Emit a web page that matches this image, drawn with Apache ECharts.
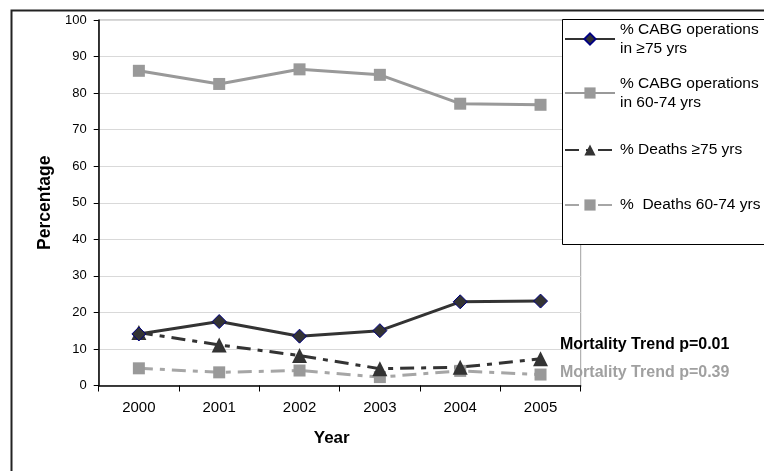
<!DOCTYPE html>
<html>
<head>
<meta charset="utf-8">
<script src="https://cdn.jsdelivr.net/npm/echarts@6/dist/echarts.min.js"></script>
<style>
html,body{margin:0;padding:0;background:#fff;}
#chart{width:764px;height:471px;}
</style>
</head>
<body>
<div id="chart"></div>
<script>
var years = ['2000', '2001', '2002', '2003', '2004', '2005'];
var cabg75 = [14.1, 17.5, 13.5, 15.0, 22.9, 23.1];
var cabg6074 = [86.1, 82.5, 86.5, 85.0, 77.1, 76.8];
var deaths75 = [14.5, 11.1, 8.2, 4.6, 5.0, 7.3];
var deaths6074 = [4.7, 3.6, 4.1, 2.3, 4.0, 3.0];
var yTicks = [0, 10, 20, 30, 40, 50, 60, 70, 80, 90, 100];
var seriesNames = ['% CABG operations\nin \u226575 yrs', '% CABG operations\nin 60-74 yrs', '% Deaths \u226575 yrs', '%  Deaths 60-74 yrs'];
var trendLabels = ['Mortality Trend p=0.01', 'Mortality Trend p=0.39'];

var FONT = 'Liberation Sans, Arial, sans-serif';
var dark = '#333333';
var gray = '#999999';
var lightGray = '#a6a6a6';

function legendFor(name, top, multi) {
  return {
    data: [name],
    left: 564,
    top: top,
    padding: 0,
    z: 6,
    itemWidth: 50,
    itemHeight: 14,
    itemGap: 4,
    selectedMode: false,
    textStyle: {
      fontFamily: FONT,
      fontSize: 15.5,
      color: '#000',
      lineHeight: 19,
      padding: multi ? [19, 0, 0, 0] : 0
    }
  };
}

var chart = echarts.init(document.getElementById('chart'));
chart.setOption({
  animation: false,
  backgroundColor: '#fff',
  grid: {
    left: 98.7, right: 183.3, top: 20, bottom: 85.5,
    show: true, borderColor: '#a0a0a0', borderWidth: 1
  },
  legend: [
    legendFor(seriesNames[0], 10.5, true),
    legendFor(seriesNames[1], 64.5, true),
    legendFor(seriesNames[2], 140.5, false),
    legendFor(seriesNames[3], 195.5, false)
  ],
  xAxis: {
    type: 'category',
    data: years,
    boundaryGap: true,
    name: 'Year',
    nameLocation: 'middle',
    nameGap: 44,
    nameTextStyle: { fontFamily: FONT, fontSize: 17, fontWeight: 'bold', color: '#000', padding: [0, 16, 0, 0] },
    axisLine: { lineStyle: { color: '#000', width: 1.5 } },
    axisTick: { show: true, length: 6, alignWithLabel: false, lineStyle: { color: '#000', width: 1 } },
    axisLabel: { fontFamily: FONT, fontSize: 15, color: '#000', margin: 15 },
    splitLine: { show: false }
  },
  yAxis: {
    type: 'value',
    min: 0, max: 100, interval: 10,
    name: 'Percentage',
    nameLocation: 'middle',
    nameGap: 44,
    nameRotate: 90,
    nameTextStyle: { fontFamily: FONT, fontSize: 17.5, fontWeight: 'bold', color: '#000' },
    axisLine: { show: true, lineStyle: { color: '#000', width: 1.5 } },
    axisTick: { show: true, length: 5, lineStyle: { color: '#000', width: 1 } },
    axisLabel: {
      fontFamily: FONT, fontSize: 13, color: '#000', margin: 12,
      formatter: function (v) { return yTicks.indexOf(v) >= 0 ? String(v) : ''; }
    },
    splitLine: { show: true, lineStyle: { color: '#d9d9d9', width: 1 } }
  },
  series: [
    {
      name: seriesNames[1], type: 'line', data: cabg6074,
      symbol: 'rect', symbolSize: 12,
      lineStyle: { color: gray, width: 3 },
      itemStyle: { color: gray }
    },
    {
      name: seriesNames[3], type: 'line', data: deaths6074,
      symbol: 'rect', symbolSize: 12,
      lineStyle: { color: lightGray, width: 3, type: [14, 7, 5, 7] },
      itemStyle: { color: gray }
    },
    {
      name: seriesNames[2], type: 'line', data: deaths75,
      symbol: 'triangle', symbolSize: 15,
      lineStyle: { color: dark, width: 3, type: [14, 7, 5, 7] },
      itemStyle: { color: dark }
    },
    {
      name: seriesNames[0], type: 'line', data: cabg75,
      symbol: 'diamond', symbolSize: 14,
      lineStyle: { color: dark, width: 3 },
      itemStyle: { color: dark, borderColor: '#000080', borderWidth: 1 }
    }
  ],
  graphic: [
    {
      type: 'rect', left: 9, top: 8, silent: true, z: -1,
      shape: { x: 0, y: 0, width: 900, height: 600 },
      style: { fill: 'none', stroke: '#222', lineWidth: 2 }
    },
    {
      type: 'rect', silent: true, z: 5,
      shape: { x: 562.5, y: 19.5, width: 300, height: 225 },
      style: { fill: '#fff', stroke: '#000', lineWidth: 1 }
    },
    {
      type: 'text', x: 560, y: 345, z: 10,
      style: { text: trendLabels[0], font: 'bold 16px ' + FONT, fill: '#000', verticalAlign: 'middle' }
    },
    {
      type: 'text', x: 560, y: 373, z: 10,
      style: { text: trendLabels[1], font: 'bold 16px ' + FONT, fill: '#a0a0a0', verticalAlign: 'middle' }
    }
  ]
});
</script>
</body>
</html>
